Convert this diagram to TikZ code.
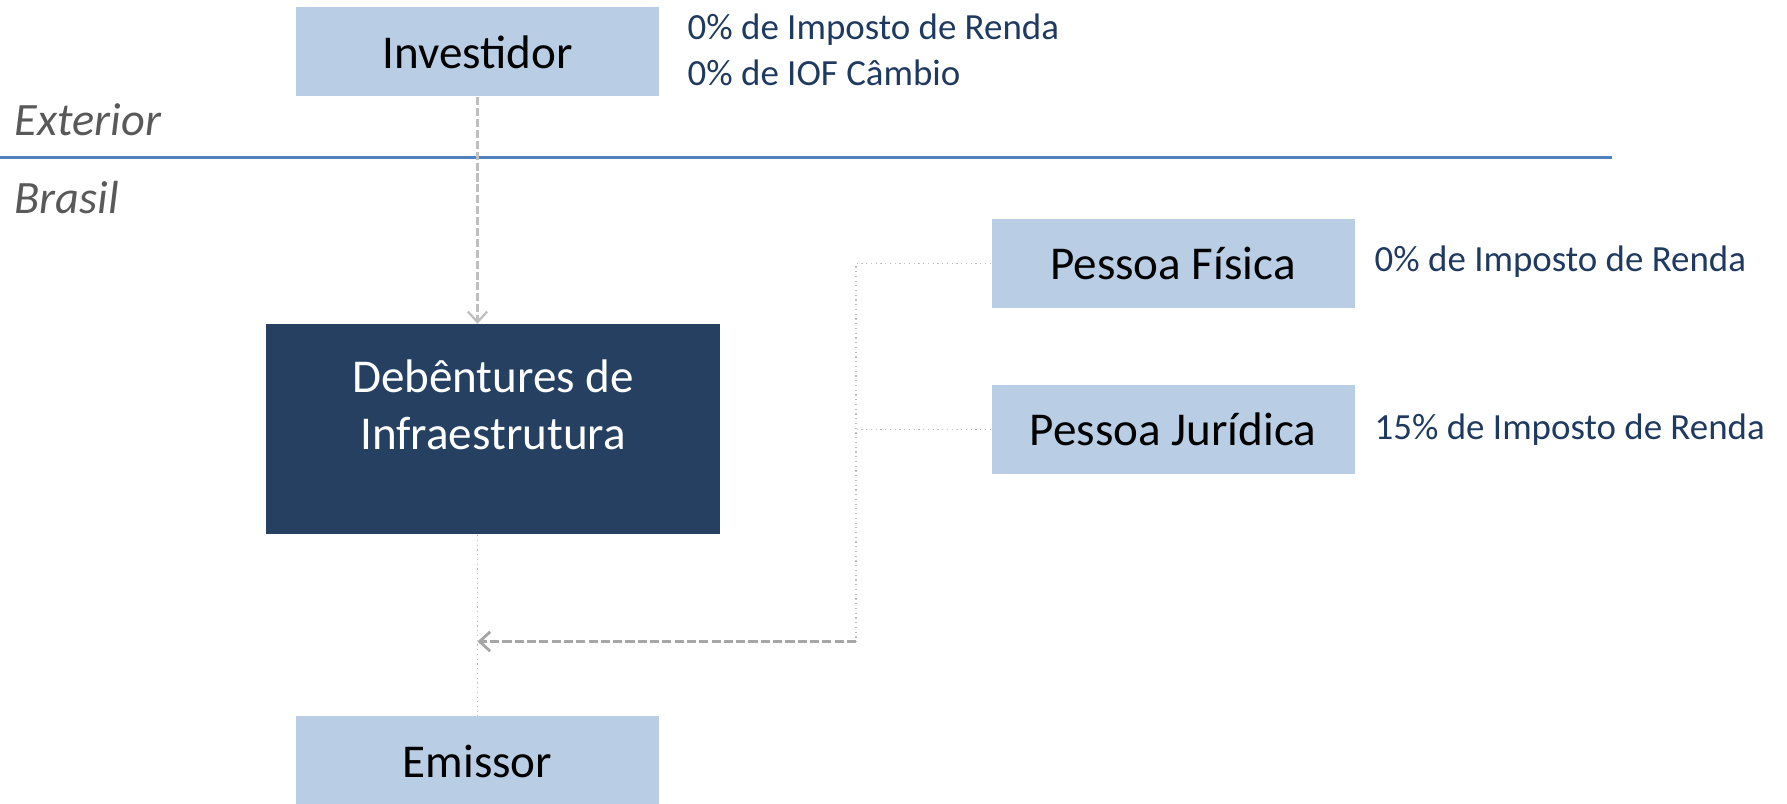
\documentclass[tikz,border=0pt]{standalone}
\usepackage{fontspec}
\setmainfont{Carlito}
\usepackage{xcolor}
\usepackage{tikz}
\usetikzlibrary{arrows.meta}

\definecolor{boxblue}{HTML}{B9CDE5}
\definecolor{boxnavy}{HTML}{254061}
\definecolor{taxnavy}{HTML}{1F3A60}
\definecolor{linegray}{HTML}{A6A6A6}
\definecolor{lightgray}{HTML}{BFBFBF}
\definecolor{regiongray}{HTML}{595959}
\definecolor{borderblue}{HTML}{4F81BD}

\begin{document}
\begin{tikzpicture}[
    lightbox/.style={fill=boxblue, minimum width=3.63cm, minimum height=0.89cm, inner sep=0pt,
        font=\fontsize{13.4}{16.2}\selectfont},
    darkbox/.style={fill=boxnavy, minimum width=4.54cm, minimum height=2.10cm, inner sep=0pt},
    taxtext/.style={anchor=west, inner sep=0pt, align=left, text=taxnavy,
        font=\fontsize{10.5}{13.1}\selectfont},
    regiontext/.style={anchor=west, inner sep=0pt, text=regiongray,
        font=\fontsize{13.2}{15}\selectfont\itshape},
    dasharrow/.style={line width=0.65pt, dash pattern=on 2.3pt off 0.8pt,
        -{Straight Barb[length=3pt, width=5.5pt]}},
    dotline/.style={line width=0.35pt, lightgray, densely dotted}
  ]
    \useasboundingbox (0,0) rectangle (17.87,8.035);

    % fronteira Exterior / Brasil
    \draw[line width=0.85pt, borderblue] (0,6.46) -- (16.12,6.46);
    \node[regiontext] (ext) at (0.14,6.84) {Exterior};
    \node[regiontext] (bra) at (0.14,6.06) {Brasil};

    % caixas
    \node[lightbox] (inv) at (4.775,7.515) {Investidor};
    \node[darkbox] (deb) at (4.93,3.74) {};
    \node[inner sep=0pt, align=center, text=white, font=\fontsize{13.4}{16.2}\selectfont]
        (debtxt) at ([yshift=0.25cm]deb.center) {Debêntures de\\Infraestrutura};
    \node[lightbox] (pf) at (11.73,5.40) {Pessoa Física};
    \node[lightbox] (pj) at (11.73,3.74) {Pessoa Jurídica};
    \node[lightbox] (emi) at (4.775,0.425) {Emissor};

    % impostos
    \node[taxtext] (invtax) at (6.87,7.54) {0\% de Imposto de Renda\\0\% de IOF Câmbio};
    \node[taxtext] (pftax) at (13.74,5.42) {0\% de Imposto de Renda};
    \node[taxtext] (pjtax) at (13.74,3.74) {15\% de Imposto de Renda};

    % ligacoes
    \coordinate (bend) at (8.56,1.62);
    \draw[dasharrow, lightgray] (inv.south) -- (inv.south |- deb.north);
    \draw[dotline] (inv.south |- deb.south) -- (emi.north);
    \draw[dotline] (pf.west) -| (bend);
    \draw[dotline] (pj.west) -- (pj.west -| bend);
    \draw[dasharrow, linegray, line width=0.8pt, dash pattern=on 2.6pt off 0.9pt] (bend) -- (bend -| emi.north);
\end{tikzpicture}
\end{document}
